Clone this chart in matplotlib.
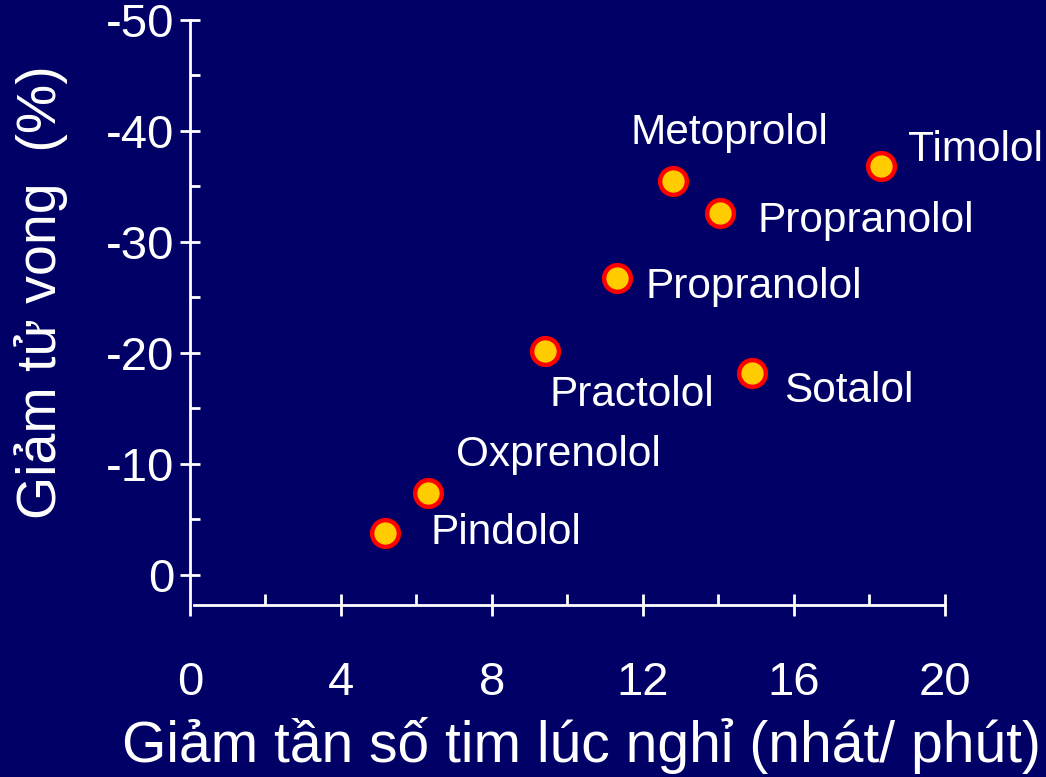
import numpy as np
import matplotlib.pyplot as plt
from matplotlib.ticker import MultipleLocator

plt.rcParams['font.family'] = ['Liberation Sans', 'DejaVu Sans']

# doc tu hinh
drugs = ['Pindolol', 'Oxprenolol', 'Practolol', 'Propranolol', 'Metoprolol',
         'Propranolol', 'Sotalol', 'Timolol']
hr_drop = [5.17, 6.3, 9.4, 11.3, 12.8, 14.04, 14.9, 18.3]
mort_drop = [-3.8, -7.4, -20.2, -26.8, -35.5, -32.6, -18.2, -36.8]
# vi tri nhan (pixel) so voi diem
offs = [(45, 0), (28, 38), (5, -44), (29, -9), (-43, 48), (38, -8), (32, -18), (27, 16)]
bg = '#000066'

fig = plt.figure(figsize=(10.46, 7.77), dpi=100, facecolor=bg)
ax = fig.add_axes([0.1816, 0.2214, 0.7218, 0.7529], facecolor=bg)

ax.scatter(hr_drop, mort_drop, s=370, c='#ffcc00', edgecolors='#ff0000',
           linewidths=3.2, zorder=3, clip_on=False)
for name, x, y, (dx, dy) in zip(drugs, hr_drop, mort_drop, offs):
    ax.annotate(name, (x, y), xytext=(dx, dy), textcoords='offset pixels',
                color='white', fontsize=30.5, va='center', ha='left')

ax.set_xlim(0, 20)
ax.set_ylim(2.7, -50)
ax.xaxis.set_major_locator(MultipleLocator(4))
ax.xaxis.set_minor_locator(MultipleLocator(2))
ax.yaxis.set_major_locator(MultipleLocator(10))
ax.yaxis.set_minor_locator(MultipleLocator(5))
ax.set_yticks([0, -10, -20, -30, -40, -50])
ax.set_yticklabels(['0', '-10', '-20', '-30', '-40', '-50'])

for s in ['top', 'right']:
    ax.spines[s].set_visible(False)
for s in ['left', 'bottom']:
    ax.spines[s].set_color('white')
    ax.spines[s].set_linewidth(2)
ax.spines['left'].set_bounds(1.6, -50)
ax.spines['bottom'].set_bounds(0.1, 20)

ax.tick_params(axis='x', which='major', direction='inout', length=16, width=2,
               colors='white', labelsize=34, pad=32)
ax.tick_params(axis='x', which='minor', direction='in', length=8, width=2, colors='white')
ax.tick_params(axis='y', which='major', direction='inout', length=14, width=2,
               colors='white', labelsize=34, pad=4)
ax.tick_params(axis='y', which='minor', direction='in', length=7, width=2, colors='white')

ax.set_xlabel('Giảm tần số tim lúc nghỉ (nhát/ phút)', color='white', fontsize=41,
              labelpad=9, x=0.519)
ax.set_ylabel('Giảm tử vong  (%)', color='white', fontsize=40)
ax.yaxis.set_label_coords(-0.162, 0.535)

fig.savefig('out.png', dpi=100, facecolor=bg)
